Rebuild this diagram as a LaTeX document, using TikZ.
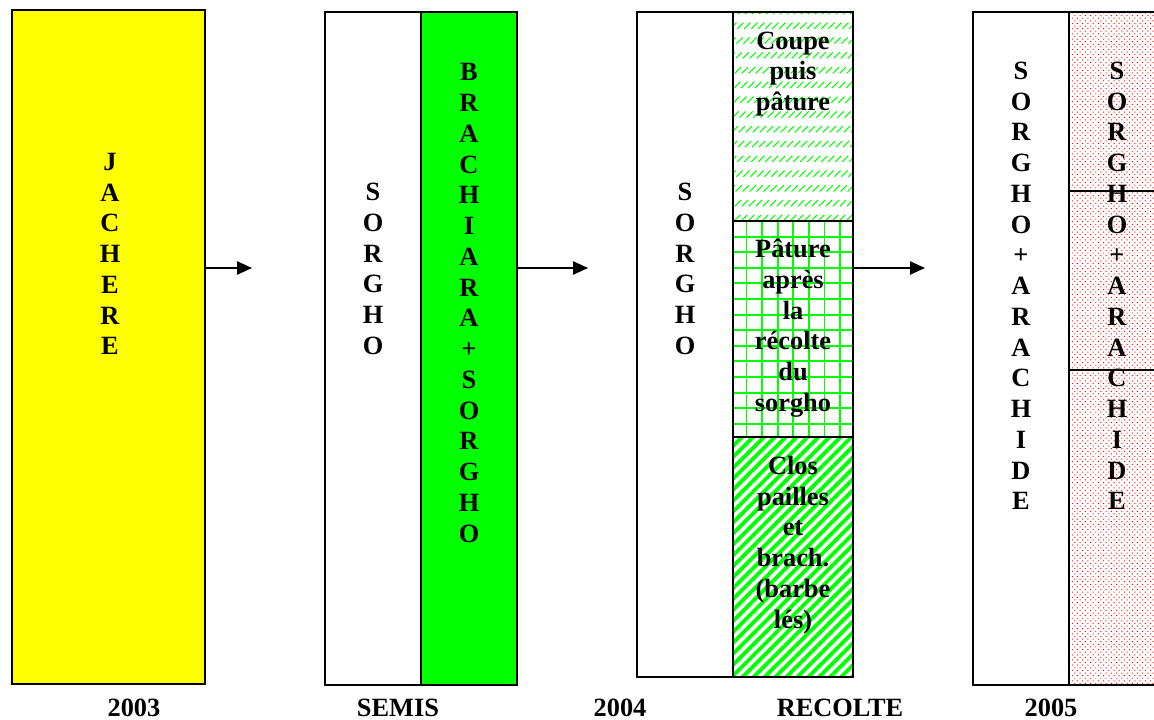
\documentclass[tikz,border=0pt]{standalone}
\usepackage{fontspec}
\setmainfont{Liberation Serif}
\usetikzlibrary{arrows.meta,fit,patterns.meta}

\definecolor{jyellow}{RGB}{255,255,0}
\definecolor{bgreen}{RGB}{0,255,0}
\definecolor{dred}{RGB}{255,0,0}

\begin{document}
\begin{tikzpicture}[x=0.02cm, y=-0.02cm,
  col/.style={draw, line width=1pt, inner sep=0pt},
  vtxt/.style={font=\fontsize{15}{17.5}\selectfont\bfseries, align=center, inner sep=0pt},
  yr/.style={font=\fontsize{15}{17.5}\selectfont\bfseries, inner sep=0pt},
  arr/.style={-{Triangle[length=8.5pt,width=7.5pt]}, line width=1pt},
  hatch/.style={bgreen, line width=0.6pt, dash pattern=on 5pt off 6.9pt},
  gline/.style={bgreen, line width=1.1pt},
  stripes/.style={pattern={Lines[angle=45,distance=4.4pt,line width=2.2pt]}, pattern color=bgreen},
  rdots/.style={pattern={Dots[angle=45,distance=2.1pt,radius=0.4pt]}, pattern color=dred},
]
\useasboundingbox (0,0) rectangle (1154,720);

% 2003 : jachere
\node[col, fill=jyellow, fit={(12,10) (205,684)}] (jach) {};
\node[vtxt] (tjach) at (110,254) {J\\A\\C\\H\\E\\R\\E};

% semis
\node[col, fit={(325,12) (421,685)}] (sem1) {};
\node[col, fill=bgreen, fit={(421,12) (517,685)}] (sem2) {};
\node[vtxt] (tsem1) at (373,269) {S\\O\\R\\G\\H\\O};
\node[vtxt] (tsem2) at (469,303) {B\\R\\A\\C\\H\\I\\A\\R\\A\\+\\S\\O\\R\\G\\H\\O};

% 2004 : three plots next to the sorghum
\begin{scope}
  \clip (733,12) rectangle (853,221);
  \foreach \i in {524,531,...,853}
    \draw[hatch] (\i,221) -- ++(209,-209);
\end{scope}
\begin{scope}
  \clip (733,221) rectangle (853,437);
  \foreach \gx in {746.5,762.1,...,853}
    \draw[gline] (\gx,221) -- (\gx,437);
  \foreach \gy in {236.6,252.2,...,437}
    \draw[gline] (733,\gy) -- (853,\gy);
\end{scope}
\node[col, fit={(637,12) (733,677)}] (rec1) {};
\node[col, fit={(733,12) (853,221)}] (coupe) {};
\node[col, fit={(733,221) (853,437)}] (pat) {};
\node[col, stripes, fit={(733,437) (853,677)}] (clos) {};
\node[vtxt] (trec1) at (685,269) {S\\O\\R\\G\\H\\O};
\node[vtxt] (tcoupe) at (793,74) {Coupe\\puis\\pâture};
\node[vtxt] (tpat) at (793,328) {Pâture\\après\\la\\récolte\\du\\sorgho};
\node[vtxt] (tclos) at (793,545) {Clos\\pailles\\et\\brach.\\(barbe\\lés)};

% 2005
\node[col, fit={(973,12) (1069,685)}] (ara1) {};
\node[col, rdots, fit={(1069,12) (1175,191)}] (ara2) {};
\node[col, rdots, fit={(1069,191) (1175,370)}] (ara3) {};
\node[col, rdots, fit={(1069,370) (1175,685)}] (ara4) {};
\node[vtxt] (tara1) at (1021,286) {S\\O\\R\\G\\H\\O\\+\\A\\R\\A\\C\\H\\I\\D\\E};
\node[vtxt] (tara2) at (1117,286) {S\\O\\R\\G\\H\\O\\+\\A\\R\\A\\C\\H\\I\\D\\E};

% arrows between the years
\coordinate (a1) at (252,268);
\coordinate (a2) at (588,268);
\coordinate (a3) at (925,268);
\draw[arr] (jach.east |- a1) -- (a1);
\draw[arr] (sem2.east |- a2) -- (a2);
\draw[arr] (pat.east |- a3) -- (a3);

% captions
\node[yr] (l2003) at (134,708) {2003};
\node[yr] (lsemis) at (398,708) {SEMIS};
\node[yr] (l2004) at (620,708) {2004};
\node[yr] (lrec) at (840,708) {RECOLTE};
\node[yr] (l2005) at (1051,708) {2005};
\end{tikzpicture}
\end{document}
